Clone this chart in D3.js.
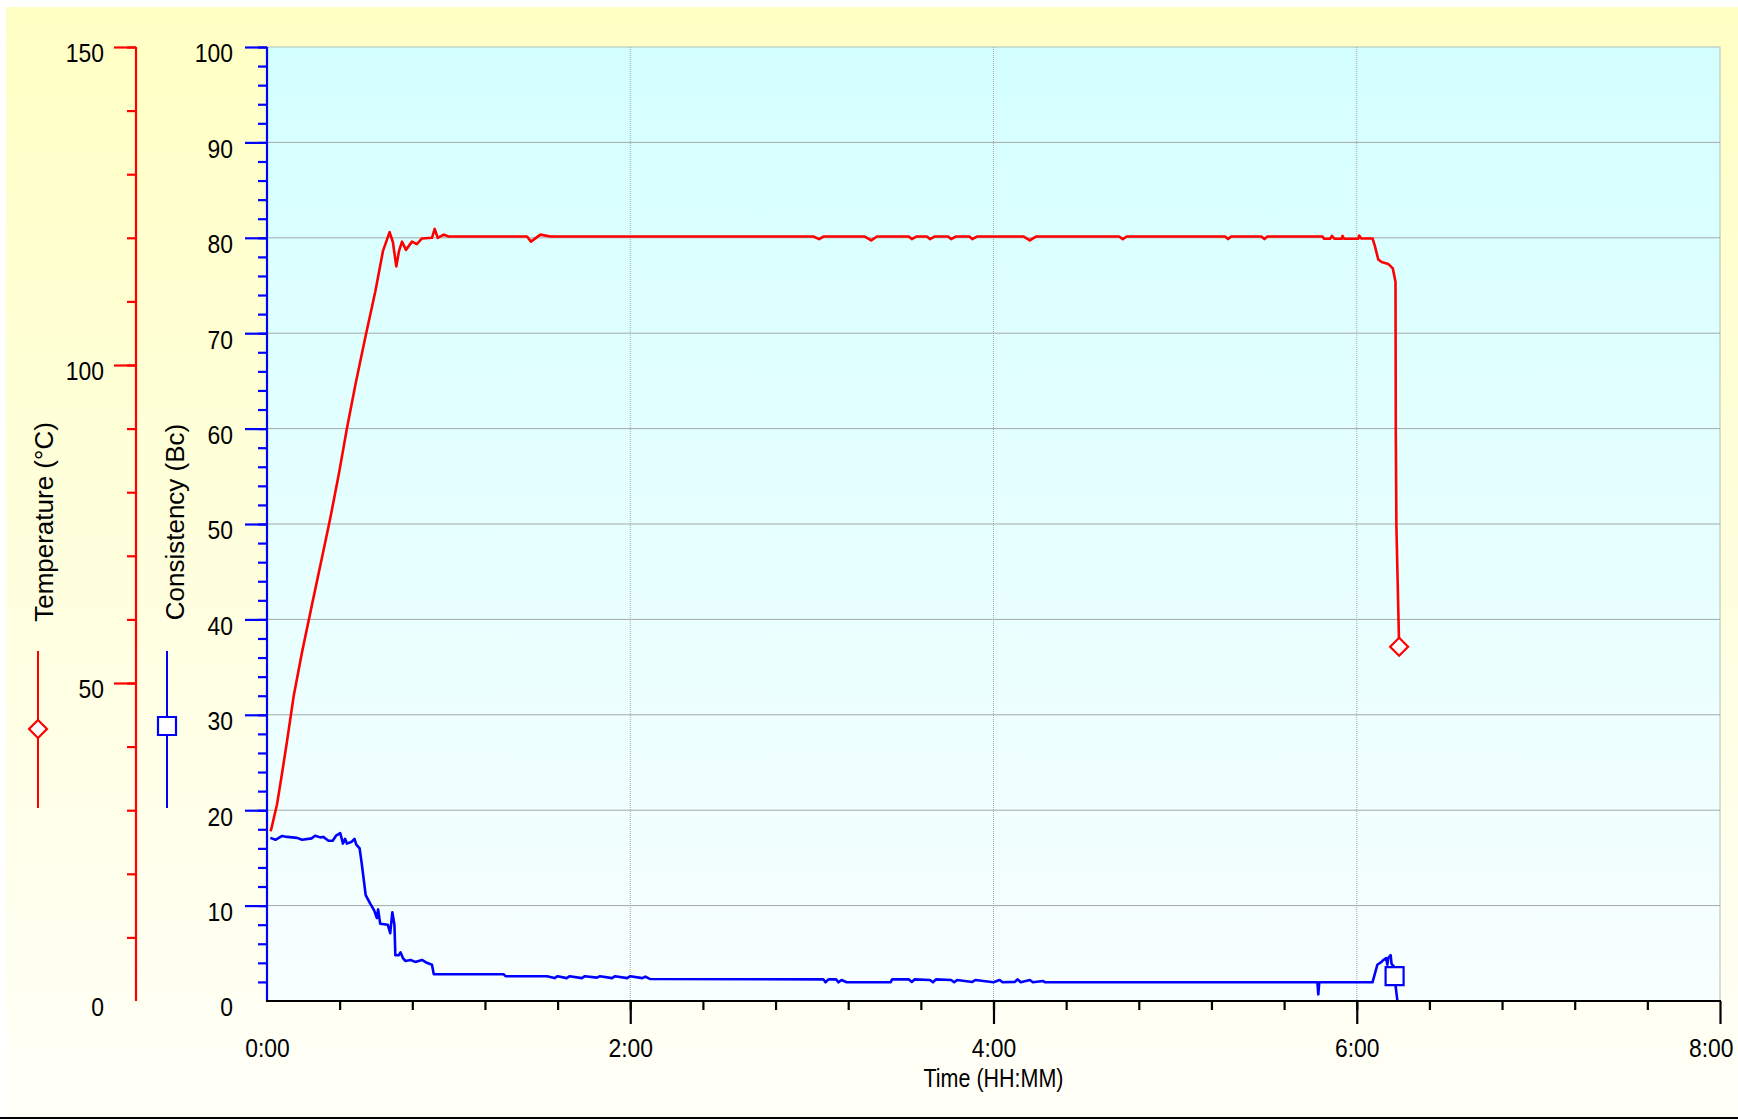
<!DOCTYPE html>
<html>
<head>
<meta charset="utf-8">
<script src="https://cdn.jsdelivr.net/npm/d3@7"></script>
<style>
  html, body { margin: 0; padding: 0; background: #fff; }
  svg { display: block; }
  text { font-family: "Liberation Sans", Arial, Helvetica, sans-serif; fill: #000; }
</style>
</head>
<body>
<div id="chart"></div>
<script>
// elapsed time in minutes, temperature in degC
const tempTime = [1.1, 1.4, 3.3, 5.0, 6.6, 8.8, 11.6, 14.9, 18.2, 20.9, 23.7, 26.4, 29.2, 32.5, 35.8, 38.3,
    40.5, 41.6, 42.7, 43.6, 44.6, 45.9, 47.9, 49.5, 51.2, 54.5, 55.4, 56.4, 58.4, 60.0, 85.9, 87.2, 90.3, 93.6,
    180.5, 182.4, 183.8, 197.5, 199.6, 201.5, 212.0, 213.0, 214.5, 218.0, 219.0, 220.5, 225.0, 226.0, 227.5,
    232.0, 233.0, 234.5, 250.0, 252.0, 254.0, 281.5, 282.7, 284.0, 316.5, 317.5, 318.5, 328.5, 329.5, 330.5,
    348.7, 349.2, 351.2, 351.8, 352.6, 355.0, 355.3, 355.8, 360.5, 360.8, 361.5, 365.2,
    366.0, 367.1, 368.2, 370.4, 371.9, 372.8, 372.9, 373.1, 374.0];
const tempValue = [26.7, 27.0, 30.9, 35.9, 40.8, 47.9, 54.9, 62.4, 69.8, 75.9, 82.8, 90.0, 96.9, 104.4, 111.6, 117.9,
    120.9, 119.3, 115.5, 117.9, 119.4, 118.1, 119.4, 119.0, 119.9, 120.0, 121.4, 120.0, 120.5, 120.2, 120.2, 119.4, 120.5, 120.2,
    120.2, 119.8, 120.2, 120.2, 119.6, 120.2, 120.2, 119.8, 120.2, 120.2, 119.8, 120.2, 120.2, 119.8, 120.2,
    120.2, 119.8, 120.2, 120.2, 119.6, 120.2, 120.2, 119.8, 120.2, 120.2, 119.8, 120.2, 120.2, 119.8, 120.2,
    120.2, 119.85, 119.85, 120.3, 119.85, 119.85, 120.3, 119.85, 119.85, 120.35, 119.9, 119.9,
    118.7, 116.6, 116.2, 115.9, 115.2, 113.1, 89.3, 74.6, 55.7];

// elapsed time in minutes, consistency in Bc
const consTime = [1.1, 2.8, 5.0, 6.6, 9.9, 11.6, 14.8, 15.9, 17.6, 18.6, 20.3, 21.7, 22.8, 24.2, 25.1, 25.8, 26.4,
    28.0, 28.9, 29.5, 30.6, 31.3, 32.6, 34.1, 35.4, 36.3, 36.7, 37.4, 39.9, 40.7, 41.4, 42.1, 42.4, 43.5, 44.1,
    44.9, 45.7, 47.4, 49.0, 51.2, 52.8, 54.5, 55.1, 78.2, 78.8, 92.5, 95, 96, 99, 100, 104, 105, 109, 110, 114,
    115, 119, 120, 124, 125, 126.6, 183.8, 184.5, 185.5, 188, 188.8, 189.8, 191.5, 206, 206.5, 212, 213, 214,
    219, 220, 221, 226, 227, 228, 233, 234, 240, 242, 243, 247, 248, 249, 252, 253, 256.4, 257, 347.0, 347.3,
    347.6, 365.2, 366.8, 368.2, 368.8, 369.7, 370.1, 370.4, 371.2, 371.5, 372.3, 372.5, 372.9, 373.4];
const consValue = [17.1, 16.9, 17.3, 17.2, 17.1, 16.9, 17.05, 17.33, 17.15, 17.2, 16.8, 16.8, 17.33, 17.6, 16.5, 17.0, 16.5,
    16.7, 17.0, 16.4, 16.0, 14.4, 11.1, 10.2, 9.5, 8.7, 9.6, 8.1, 8.0, 7.1, 9.3, 8.0, 4.8, 4.8, 5.1,
    4.5, 4.2, 4.3, 4.1, 4.3, 4.0, 3.8, 2.8, 2.8, 2.6, 2.6, 2.4, 2.6, 2.4, 2.6, 2.4, 2.6, 2.45, 2.6, 2.4,
    2.6, 2.4, 2.6, 2.4, 2.55, 2.3, 2.27, 1.96, 2.27, 2.27, 1.96, 2.2, 1.96, 1.96, 2.27, 2.27, 2.0, 2.27,
    2.2, 1.96, 2.27, 2.2, 1.96, 2.2, 2.0, 2.2, 1.96, 2.2, 1.96, 2.0, 2.27, 1.96, 2.2, 1.96, 2.1, 1.96, 1.96, 0.7,
    1.96, 1.96, 3.8, 4.1, 4.3, 4.5, 3.8, 4.5, 4.8, 3.9, 3.6, 2.6, 1.4, 0.1];

const tempMarker = [374.0, 55.7];
const consMarker = [372.5, 2.6];

const timeLabels = [0, 120, 240, 360, 480];
const tempLabels = [0, 50, 100, 150];
const consLabels = [0, 10, 20, 30, 40, 50, 60, 70, 80, 90, 100];

const W = 1738, H = 1119;
const plot = { left: 267, right: 1720, top: 47, bottom: 1001 };
const tempAxisX = 136;
const RED = "#ff0000", BLUE = "#0000ff";

const svg = d3.select("#chart").append("svg")
    .attr("width", W).attr("height", H);

const defs = svg.append("defs");
const bgGrad = defs.append("linearGradient").attr("id", "bg-grad")
    .attr("x1", 0).attr("y1", 0).attr("x2", 0).attr("y2", 1);
bgGrad.append("stop").attr("offset", 0).attr("stop-color", "#ffffc4");
bgGrad.append("stop").attr("offset", 1).attr("stop-color", "#fffff8");
const plotGrad = defs.append("linearGradient").attr("id", "plot-grad")
    .attr("x1", 0).attr("y1", 0).attr("x2", 0).attr("y2", 1);
plotGrad.append("stop").attr("offset", 0).attr("stop-color", "#d4ffff");
plotGrad.append("stop").attr("offset", 1).attr("stop-color", "#f8ffff");

svg.append("rect")
    .attr("x", 6).attr("y", 7).attr("width", W - 6).attr("height", 1110)
    .attr("fill", "url(#bg-grad)");
svg.append("line")
    .attr("x1", 0).attr("x2", W).attr("y1", 1118).attr("y2", 1118)
    .attr("stroke", "#000").attr("stroke-width", 2);

const x = d3.scaleLinear().domain([0, 480]).range([plot.left, plot.right]);
const yCons = d3.scaleLinear().domain([0, 100]).range([plot.bottom, plot.top]);
const yTemp = d3.scaleLinear().domain([0, 150]).range([plot.bottom, plot.top]);

svg.append("rect")
    .attr("x", plot.left).attr("y", plot.top)
    .attr("width", plot.right - plot.left).attr("height", plot.bottom - plot.top)
    .attr("fill", "url(#plot-grad)")
    .attr("stroke", "#b4bcbc").attr("stroke-width", 1);

// grid
const grid = svg.append("g");
grid.selectAll(".hgrid").data(consLabels.filter(v => v > 0 && v < 100)).join("line")
    .attr("x1", plot.left).attr("x2", plot.right)
    .attr("y1", d => yCons(d)).attr("y2", d => yCons(d))
    .attr("stroke", "#a4a8a8").attr("stroke-width", 1);
grid.selectAll(".vgrid").data(timeLabels.filter(v => v > 0 && v < 480)).join("line")
    .attr("x1", d => x(d)).attr("x2", d => x(d))
    .attr("y1", plot.top).attr("y2", plot.bottom)
    .attr("stroke", "#a4a8a8").attr("stroke-width", 1).attr("stroke-dasharray", "1,1");

// series
const tempLine = d3.line().x(d => x(d[0])).y(d => yTemp(d[1]));
const consLine = d3.line().x(d => x(d[0])).y(d => yCons(d[1]));

svg.append("path").datum(d3.zip(consTime, consValue))
    .attr("d", consLine).attr("fill", "none")
    .attr("stroke", BLUE).attr("stroke-width", 2.6).attr("stroke-linejoin", "round");
svg.append("path").datum(d3.zip(tempTime, tempValue))
    .attr("d", tempLine).attr("fill", "none")
    .attr("stroke", RED).attr("stroke-width", 2.6).attr("stroke-linejoin", "round");

const diamond = d3.symbol().type(d3.symbolSquare).size(162);
const square = d3.symbol().type(d3.symbolSquare).size(324);

svg.append("path").attr("d", diamond())
    .attr("transform", `translate(${x(tempMarker[0])},${yTemp(tempMarker[1])}) rotate(45)`)
    .attr("fill", "#fff").attr("stroke", RED).attr("stroke-width", 2.2);
svg.append("path").attr("d", square())
    .attr("transform", `translate(${x(consMarker[0])},${yCons(consMarker[1])})`)
    .attr("fill", "#fff").attr("stroke", BLUE).attr("stroke-width", 2.2);

// axes
const SQUEEZE = 0.88;
function styleLabels(g, pad) {
    g.select(".domain").remove();
    g.selectAll("text")
        .attr("x", -pad / SQUEEZE)
        .attr("dy", "0.57em")
        .attr("transform", `scale(${SQUEEZE},1)`)
        .style("font-size", "26px");
}

function verticalAxis(scale, xPos, color, minor, major, labels, pad) {
    const g = svg.append("g").attr("transform", `translate(${xPos},0)`);
    g.append("g").call(d3.axisLeft(scale).tickValues(minor).tickSize(9).tickSizeOuter(0).tickFormat(""))
        .call(a => a.select(".domain").remove());
    g.append("g").call(d3.axisLeft(scale).tickValues(major).tickSize(22).tickSizeOuter(0).tickFormat(""))
        .call(a => a.select(".domain").remove());
    g.append("g").call(d3.axisLeft(scale).tickValues(labels).tickSize(0).tickFormat(d3.format("d")))
        .call(a => styleLabels(a, pad));
    g.append("line")
        .attr("x1", 0).attr("x2", 0).attr("y1", plot.top).attr("y2", plot.bottom);
    g.selectAll("line").attr("stroke", color).attr("stroke-width", 2.2);
    g.attr("font-family", null);
}

verticalAxis(yTemp, tempAxisX, RED,
    d3.range(10, 151, 10), [50, 100, 150], tempLabels, 32);
verticalAxis(yCons, plot.left, BLUE,
    d3.range(2, 101, 2), consLabels.filter(v => v > 0), consLabels, 34);

const fmtTime = m => `${Math.floor(m / 60)}:${String(m % 60).padStart(2, "0")}`;
const xg = svg.append("g").attr("transform", `translate(0,${plot.bottom})`);
xg.append("g").call(d3.axisBottom(x).tickValues(d3.range(24, 480, 24)).tickSize(9).tickFormat(""))
    .call(a => a.select(".domain").remove());
xg.append("g").call(d3.axisBottom(x).tickValues(timeLabels.filter(v => v > 0)).tickSize(23).tickFormat(""))
    .call(a => a.select(".domain").remove());
xg.append("g").call(d3.axisBottom(x).tickValues(timeLabels).tickSize(0).tickFormat(fmtTime))
    .call(a => {
        a.select(".domain").remove();
        a.selectAll("text")
            .attr("y", 56).attr("dy", null)
            .attr("transform", `scale(${SQUEEZE},1)`)
            .style("font-size", "26px");
        // the last label is pulled in so it stays inside the frame
        a.selectAll("text").filter(d => d === 480)
            .attr("text-anchor", "end").attr("x", 13 / SQUEEZE);
    });
xg.append("line").attr("x1", plot.left - 1).attr("x2", plot.right + 1).attr("y1", 0).attr("y2", 0);
xg.selectAll("line").attr("stroke", "#000").attr("stroke-width", 2.2);
xg.attr("font-family", null);

svg.append("text")
    .attr("x", (plot.left + plot.right) / 2).attr("y", 1087)
    .attr("text-anchor", "middle")
    .attr("textLength", 140).attr("lengthAdjust", "spacingAndGlyphs")
    .style("font-size", "26px")
    .text("Time (HH:MM)");

// legend
function legendEntry(cx, textX, cy, color, title, symbolPath, rotate) {
    const g = svg.append("g");
    g.append("line")
        .attr("x1", cx).attr("x2", cx).attr("y1", 651).attr("y2", 808)
        .attr("stroke", color).attr("stroke-width", 2);
    g.append("path").attr("d", symbolPath)
        .attr("transform", `translate(${cx},${cy})` + (rotate ? " rotate(45)" : ""))
        .attr("fill", "#fff").attr("stroke", color).attr("stroke-width", 2.2);
    g.append("text")
        .attr("transform", `translate(${textX},522) rotate(-90)`)
        .attr("text-anchor", "middle")
        .style("font-size", "26px")
        .text(title);
}

legendEntry(38, 53, 729, RED, "Temperature (°C)", diamond(), true);
legendEntry(167, 183.5, 726, BLUE, "Consistency (Bc)", square(), false);
</script>
</body>
</html>
